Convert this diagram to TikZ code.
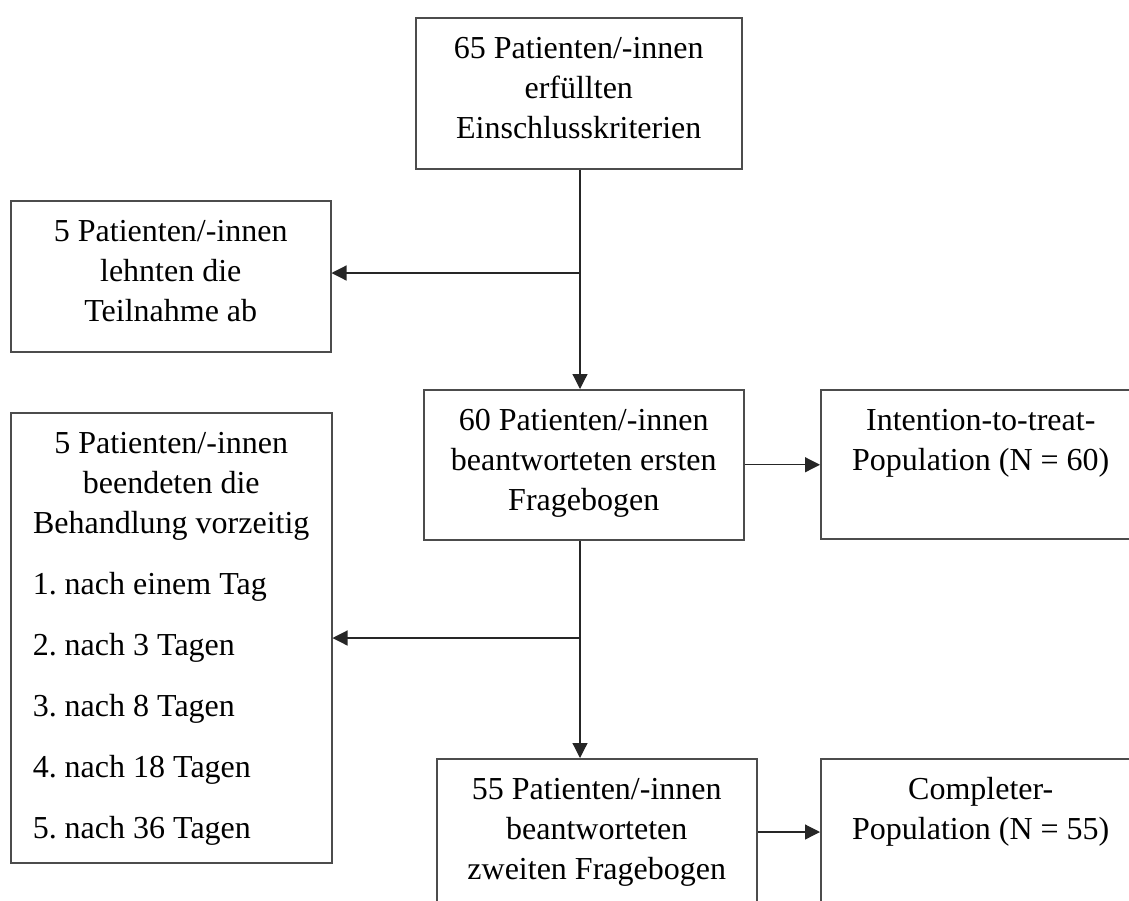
\documentclass[tikz,border=0pt]{standalone}
\usepackage{fontspec}
\setmainfont{Liberation Serif}
\usetikzlibrary{arrows.meta}
% text set from the top of a box, first baseline 20.5pt below its edge
\newcommand{\boxtext}[3]{\parbox[t][#2][t]{#1}{\fontsize{16pt}{20pt}\selectfont
  \frenchspacing\centering\rule{0pt}{20.5pt}#3}}

\begin{document}
\begin{tikzpicture}[
    x=0.5pt, y=-0.5pt,
    box/.style={rectangle, draw=black!70, line width=0.75pt,
                inner sep=0pt, anchor=north west},
    arr/.style={-{Triangle[length=7.5pt, width=7.5pt]}, line width=0.6pt, black!85}
  ]
  \useasboundingbox (0,0) rectangle (1129,900);
  \clip (0,0) rectangle (1129,900);
  \node[box] (n65) at (415,17)
    {\boxtext{163pt}{75.5pt}{65 Patienten/-innen\\erfüllten\\Einschlusskriterien}};
  \node[box] (n5a) at (10,200)
    {\boxtext{160pt}{75.5pt}{5 Patienten/-innen\\lehnten die\\Teilnahme ab}};
  \node[box] (n60) at (423,389)
    {\boxtext{160pt}{75pt}{60 Patienten/-innen\\beantworteten ersten\\Fragebogen}};
  \node[box] (itt) at (820,389)
    {\boxtext{160pt}{74.5pt}{Intention-to-treat-\\Population (N = 60)}};
  \node[box] (n5b) at (10,412)
    {\boxtext{160.5pt}{225pt}{5 Patienten/-innen\\beendeten die\\Behandlung vorzeitig\par
      \raggedright\leftskip=11pt\vspace{10.5pt}%
      1. nach einem Tag\\[10.5pt]2. nach 3 Tagen\\[10.5pt]3. nach 8 Tagen\\[10.5pt]%
      4. nach 18 Tagen\\[10.5pt]5. nach 36 Tagen}};
  \node[box] (n55) at (436,758)
    {\boxtext{160pt}{80pt}{55 Patienten/-innen\\beantworteten\\zweiten Fragebogen}};
  \node[box] (compl) at (820,758)
    {\boxtext{160pt}{80pt}{Completer-\\Population (N = 55)}};
  % branching points on the main line
  \coordinate (split1) at (580,273);
  \coordinate (split2) at (580,638);
  \coordinate (row55) at (0,832);
  \draw[arr] (n65.south -| split1) -- (n60.north -| split1);
  \draw[arr] (split1) -- (split1 -| n5a.east);
  \draw[arr] (n60.south -| split2) -- (n55.north -| split2);
  \draw[arr] (split2) -- (split2 -| n5b.east);
  \draw[arr] (n60.east) -- (n60.east -| itt.west);
  \draw[arr] (row55 -| n55.east) -- (row55 -| compl.west);
\end{tikzpicture}
\end{document}
